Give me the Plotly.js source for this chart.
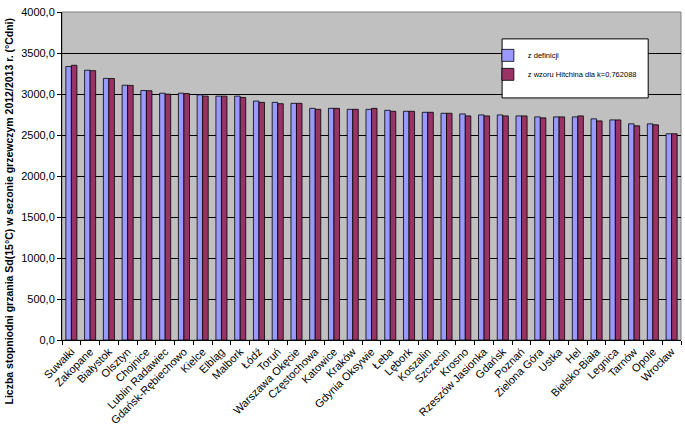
<!DOCTYPE html>
<html>
<head>
<meta charset="utf-8">
<script src="https://cdn.plot.ly/plotly-3.0.1.min.js"></script>
<style>
  html, body { margin: 0; padding: 0; background: #fff; }
  #chart { width: 685px; height: 426px; }
</style>
</head>
<body>
<div id="chart"></div>
<script>
// stations, sorted by degree-days
var stations = ['Suwałki', 'Zakopane', 'Białystok', 'Olsztyn', 'Chojnice', 'Lublin Radawiec',
    'Gdańsk-Rębiechowo', 'Kielce', 'Elbląg', 'Malbork', 'Łódź', 'Toruń', 'Warszawa Okęcie',
    'Częstochowa', 'Katowice', 'Kraków', 'Gdynia Oksywie', 'Łeba', 'Lębork', 'Koszalin',
    'Szczecin', 'Krosno', 'Rzeszów Jasionka', 'Gdańsk', 'Poznań', 'Zielona Góra', 'Ustka',
    'Hel', 'Bielsko-Biała', 'Legnica', 'Tarnów', 'Opole', 'Wrocław'];

// Sd(15°C) from definition
var sdDef = [3335, 3290, 3190, 3107, 3043, 3010, 3010, 2990, 2974, 2974, 2914, 2898, 2886,
    2825, 2825, 2813, 2813, 2801, 2789, 2777, 2765, 2757, 2745, 2745, 2733, 2721, 2721,
    2721, 2697, 2684, 2636, 2636, 2515];

// Sd(15°C) from Hitchin formula, k=0,762088
var sdHitchin = [3350, 3285, 3188, 3105, 3040, 2998, 3005, 2974, 2974, 2958, 2898, 2882, 2886,
    2813, 2825, 2813, 2825, 2789, 2789, 2777, 2765, 2733, 2733, 2733, 2733, 2709, 2721,
    2733, 2672, 2684, 2612, 2624, 2515];

var yTicks = [0, 500, 1000, 1500, 2000, 2500, 3000, 3500, 4000];

var fontFamily = 'Arial, "Liberation Sans", sans-serif';

var traceDef = {
    type: 'bar',
    x: stations,
    y: sdDef,
    name: 'z definicji',
    legendgroup: 'a',
    marker: { color: '#9999FF', line: { color: '#000000', width: 0.8 } },
    hoverinfo: 'x+y'
};

var traceHitchin = {
    type: 'bar',
    x: stations,
    y: sdHitchin,
    name: 'z wzoru Hitchina dla k=0,762088',
    legendgroup: 'b',
    marker: { color: '#993366', line: { color: '#000000', width: 0.8 } },
    hoverinfo: 'x+y'
};

var layout = {
    width: 685,
    height: 426,
    margin: { l: 62, r: 4, t: 12, b: 86 },
    paper_bgcolor: '#FFFFFF',
    plot_bgcolor: '#C0C0C0',
    separators: ', ',
    font: { family: fontFamily, size: 11, color: '#000000' },
    barmode: 'group',
    bargap: 0.41,
    bargroupgap: 0,
    xaxis: {
        type: 'category',
        tickangle: -45,
        tickson: 'boundaries',
        ticks: 'outside',
        ticklen: 4,
        tickcolor: '#000000',
        showline: true,
        linecolor: '#000000',
        linewidth: 1,
        showgrid: false,
        tickfont: { size: 11 }
    },
    yaxis: {
        range: [0, 4000],
        tickvals: yTicks,
        tickformat: '.1f',
        ticks: 'outside',
        ticklen: 4,
        tickcolor: '#000000',
        showline: true,
        linecolor: '#000000',
        linewidth: 1,
        showgrid: true,
        gridcolor: '#000000',
        gridwidth: 1,
        zeroline: false,
        tickfont: { size: 11 }
    },
    showlegend: true,
    legend: {
        x: 0.688,
        y: 0.912,
        xanchor: 'left',
        yanchor: 'top',
        bgcolor: 'rgba(0,0,0,0)',
        borderwidth: 0,
        tracegroupgap: 23,
        traceorder: 'normal',
        font: { size: 7.5, family: fontFamily },
        itemwidth: 30
    },
    shapes: [
        // grey frame of plot area (top / right)
        { type: 'rect', xref: 'paper', yref: 'paper', x0: 0, x1: 1, y0: 0, y1: 1,
          line: { color: '#808080', width: 1 }, layer: 'below' },
        // legend box
        { type: 'rect', xref: 'paper', yref: 'paper', x0: 0.711, x1: 0.947, y0: 0.738, y1: 0.918,
          fillcolor: '#FFFFFF', line: { color: '#000000', width: 1 }, layer: 'above' }
    ],
    annotations: [{
        text: '<b>Liczba stopniodni grzania Sd(15°C) w sezonie grzewczym 2012/2013 r. (°Cdni)</b>',
        textangle: -90,
        xref: 'paper', yref: 'paper',
        x: -0.085, y: 0.393,
        xanchor: 'center', yanchor: 'middle',
        showarrow: false,
        font: { size: 10.5, family: fontFamily }
    }]
};

Plotly.newPlot('chart', [traceDef, traceHitchin], layout, { displayModeBar: false, staticPlot: true });
</script>
</body>
</html>
